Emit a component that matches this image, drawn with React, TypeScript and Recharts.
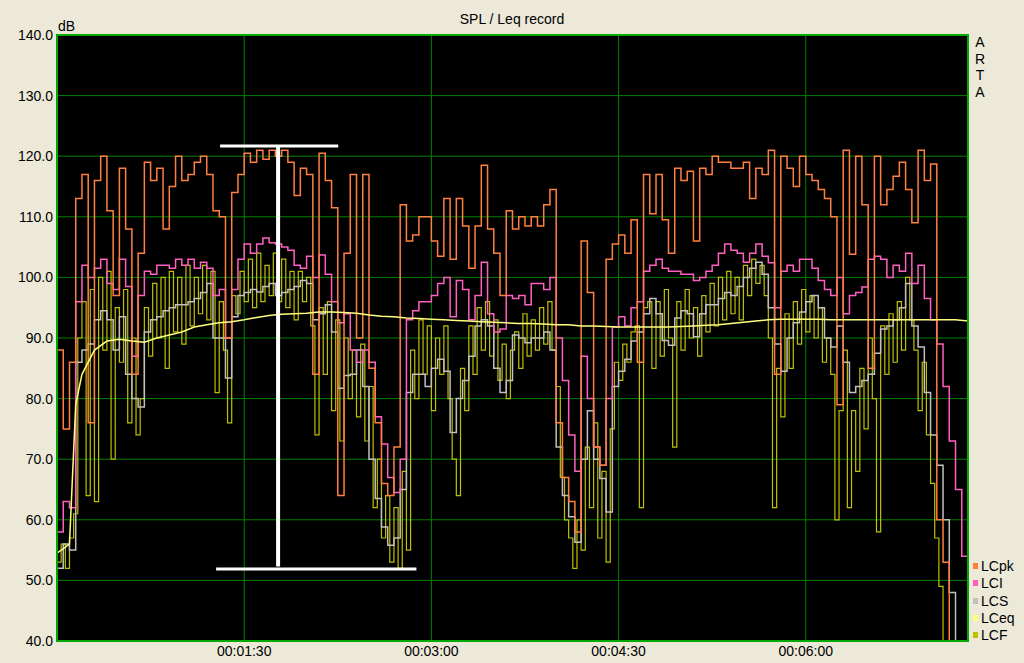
import React from 'react';
import { LineChart, Line, XAxis, YAxis, CartesianGrid, ReferenceLine } from 'recharts';

const FONT = '"Liberation Sans", Arial, sans-serif';

// sample spacing in seconds
const STEP = 3;
const STEP_F = 2;

// C-weighted peak, 3 s steps from 0 s
const LCPK = [
  88, 75, 86, 113, 117, 76, 116, 120, 111, 97,
  118, 108, 84, 104, 119, 116, 118, 108, 115, 120,
  116, 117, 119, 120, 117, 111, 110, 90, 114, 117,
  120.5, 119, 121, 119.5, 121, 120, 121, 119, 113.5, 118,
  117, 84, 120.5, 116, 111.5, 64, 104, 117, 90, 117,
  85, 76, 66, 64, 72, 112, 106, 107, 110, 110,
  106, 103.5, 113, 103, 113, 108.5, 101.5, 108.5, 118.5, 108,
  104, 97, 111, 108, 110, 108.5, 110, 108.5, 112, 114.5,
  76, 67, 63, 58, 106, 97.5, 72, 69, 103, 105.5,
  107, 104, 109.5, 86, 117, 110.5, 117, 109.5, 104, 118,
  116, 117.5, 106, 118, 117, 120, 119, 119, 118, 118,
  119, 113, 118, 117, 121, 84, 120, 118, 115, 120,
  117, 116, 114.5, 113, 110, 79, 121, 103.8, 120, 112,
  85, 120, 112, 114.5, 116.7, 119, 114.5, 109, 121, 116,
  118.7, 60, 53, 38, 38, 38, 38,
];

// C-weighted impulse
const LCI = [
  58, 63, 62, 96, 102, 100, 101.5, 103, 99, 98,
  103, 98.5, 87, 97, 101, 100.5, 102, 102, 101.5, 103,
  102, 103, 101.5, 102.5, 101.5, 97, 98, 90, 98, 103,
  105.5, 104, 105.5, 106.5, 105.7, 105.5, 105, 104.5, 102, 101.5,
  103.5, 100, 103.7, 100.5, 96, 92.5, 94, 88, 86, 88,
  86, 77, 72.5, 67, 64.5, 70, 93, 94.5, 96, 96,
  97, 99, 100, 93.5, 99.5, 98, 93, 97, 102.5, 94,
  91, 91.5, 97, 96.5, 97, 95.5, 99, 99, 98, 100,
  90, 83, 74, 68, 87, 80, 72, 69, 80, 91.8,
  93.5, 92, 95, 96, 101, 102, 103, 101.5, 101, 101,
  100.5, 100.5, 99.5, 100, 101, 102, 104, 105.5, 104.5, 104,
  102.5, 104, 105.5, 103.5, 102.4, 95, 101, 102, 101, 103,
  103, 101.5, 99.5, 98, 97, 100, 94, 97, 97.5, 98.4,
  103, 103.5, 103, 100, 102, 101, 104, 99, 102, 96.5,
  93, 89, 82, 73, 65, 54, 48,
];

// C-weighted slow
const LCS = [
  52, 56, 55, 86, 88, 89, 93, 94.5, 93, 88,
  93.5, 84, 80, 78.6, 91, 93, 93.5, 94.5, 95, 95.5,
  95.5, 96, 96.5, 97.5, 99, 90, 90, 83.4, 93.5, 97,
  97.5, 98, 97.6, 98.5, 99, 97, 97.5, 98, 98.5, 99.5,
  99, 93, 94, 95.5, 91, 81.7, 83.8, 84, 88, 82,
  70, 63.5, 58.8, 55.8, 57, 65, 81, 84, 84, 82,
  85, 86.5, 84.5, 74.4, 80, 83, 87, 92, 93, 92,
  85, 81, 83, 90.5, 90, 89.2, 90, 90, 91, 88,
  72, 64, 60.5, 56.3, 70, 78, 70, 66.8, 61.3, 82,
  84.5, 86.5, 89.5, 91, 94, 96.5, 94, 89.6, 88.8, 93.3,
  94.5, 94, 90.2, 94, 95.5, 95.5, 96.5, 97.5, 97, 98.5,
  100, 101.5, 102.5, 100.5, 95, 89, 84.5, 90, 92.5, 94.3,
  96, 97, 95, 90, 88.5, 92, 86, 81, 82, 83,
  84, 87.5, 91.5, 92, 93, 95, 99, 92, 88.5, 81,
  74, 69, 60, 48, 38, 38, 38,
];

// C-weighted fast, 2 s steps from 0 s
const LCF = [
  53, 56, 52, 57, 61, 90, 96, 64, 98, 63,
  100, 88, 101, 70, 95, 86, 98, 76, 90, 74,
  80, 95, 87, 99, 90, 100, 85, 101, 91, 100,
  89, 102, 92, 100, 94, 102, 93, 101, 81, 96,
  88, 76, 97, 94, 101, 96, 103, 95, 104, 96,
  102, 97, 104, 96, 103, 95, 101, 93, 101, 96,
  100, 92, 74, 95, 84, 96, 78, 93, 73, 90,
  80, 88, 77, 89, 73, 82, 62, 70, 57, 64,
  53, 62, 52, 68, 55, 88, 80, 93, 84, 92,
  78, 90, 84, 92, 80, 70, 64, 85, 78, 92,
  84, 95, 88, 96, 87, 93, 83, 89, 80, 88,
  91, 85, 94, 87, 93, 88, 95, 89, 96, 88,
  82, 67, 60, 57, 52, 60, 55, 72, 62, 76,
  57, 68, 53, 75, 86, 83, 89, 86, 91, 92,
  62, 95, 96, 85, 96, 87, 98, 90, 72, 96,
  88, 98, 90, 95, 87, 97, 91, 99, 92, 100,
  93, 101, 94, 100, 93, 102, 97, 103, 99, 102,
  97, 90, 62, 85, 77, 94, 85, 96, 89, 98,
  91, 97, 90, 95, 86, 90, 84, 60, 78, 88,
  62, 78, 68, 85, 75, 90, 80, 58, 92, 84,
  94, 86, 96, 88, 100, 93, 88, 78, 86, 74,
  66, 57, 49, 38, 38, 38, 38, 38, 38, 38,
];

// running Leq
const EQ_T = [
  0, 6, 9, 12, 18, 24, 30, 36, 42, 48, 54, 60, 66, 72, 78, 84, 90, 96, 102, 108,
  114, 120, 126, 132, 138, 144, 150, 156, 162, 168, 174, 180, 186, 192, 198, 204, 210, 216, 222, 228,
  234, 240, 246, 252, 258, 264, 270, 276, 282, 288, 294, 300, 306, 312, 318, 324, 330, 336, 342, 348,
  354, 360, 366, 372, 378, 384, 390, 396, 402, 408, 414, 420, 426, 432, 438,
];
const LCEQ = [
  54.5, 56, 79, 84, 88, 89.5, 89.8, 89.5, 89.3, 90, 90.5, 91, 91.8, 92.2, 92.5, 92.7, 93, 93.4, 93.7, 93.9,
  94, 94.1, 94.3, 94.3, 94.2, 94.1, 93.8, 93.6, 93.5, 93.3, 93.2, 93.1, 93, 92.9, 92.8, 92.7, 92.6, 92.5, 92.4, 92.4,
  92.3, 92.2, 92.2, 92, 92, 91.9, 91.8, 91.8, 91.8, 91.8, 91.8, 91.9, 92, 92.1, 92.2, 92.4, 92.6, 92.8, 93, 93.1,
  93.1, 93.1, 93.1, 93, 93, 93, 93, 93, 93, 93, 93, 93, 93, 93, 92.8,
];

const Y_TICKS = [40, 50, 60, 70, 80, 90, 100, 110, 120, 130, 140];
const X_TICKS = [90, 180, 270, 360];

const LEGEND = [
  { name: 'LCpk', color: '#FF7F40' },
  { name: 'LCI', color: '#FF60C0' },
  { name: 'LCS', color: '#C0C0C0' },
  { name: 'LCeq', color: '#FFFF80' },
  { name: 'LCF', color: '#C0C000' },
];

const rows = (vals: number[], step: number) => vals.map((v, i) => ({ t: i * step, v }));
const eqRows = EQ_T.map((t, i) => ({ t, v: LCEQ[i] }));

const pad = (n: number) => String(n).padStart(2, '0');
const fmtTime = (s: number) => `${pad(Math.floor(s / 3600))}:${pad(Math.floor(s / 60) % 60)}:${pad(s % 60)}`;

const tickStyle = { fill: '#000', fontSize: 14, fontFamily: FONT };

export default function App() {
  return (
    <div style={{ position: 'absolute', left: 0, top: 0, width: 1024, height: 663, background: '#ECE9D8', fontFamily: FONT }}>
      <LineChart width={1024} height={663} margin={{ top: 35, right: 56, bottom: 0, left: 0 }}>
        <CartesianGrid stroke="#008000" fill="#000000" fillOpacity={1} />
        <XAxis
          dataKey="t"
          type="number"
          domain={[0, 438]}
          ticks={X_TICKS}
          tickFormatter={fmtTime}
          allowDataOverflow
          axisLine={false}
          tickLine={false}
          tickSize={0}
          tickMargin={5}
          height={22}
          tick={tickStyle}
        />
        <YAxis
          type="number"
          domain={[40, 140]}
          ticks={Y_TICKS}
          tickFormatter={(v: number) => v.toFixed(1)}
          allowDataOverflow
          axisLine={false}
          tickLine={false}
          tickSize={0}
          tickMargin={4}
          width={57}
          tick={tickStyle}
        />
        <Line data={rows(LCF, STEP_F)} dataKey="v" name="LCF" type="stepAfter" stroke="#C0C000" strokeWidth={1.2} dot={false} isAnimationActive={false} />
        <Line data={rows(LCS, STEP)} dataKey="v" name="LCS" type="stepAfter" stroke="#C0C0C0" strokeWidth={1.5} dot={false} isAnimationActive={false} />
        <Line data={rows(LCI, STEP)} dataKey="v" name="LCI" type="stepAfter" stroke="#FF60C0" strokeWidth={1.5} dot={false} isAnimationActive={false} />
        <Line data={rows(LCPK, STEP)} dataKey="v" name="LCpk" type="stepAfter" stroke="#FF7F40" strokeWidth={1.5} dot={false} isAnimationActive={false} />
        <Line data={eqRows} dataKey="v" name="LCeq" type="linear" stroke="#FFFF80" strokeWidth={1.5} dot={false} isAnimationActive={false} />
        <ReferenceLine segment={[{ x: 106.3, y: 121.5 }, { x: 106.3, y: 52.3 }]} stroke="#FFFFFF" strokeWidth={4} />
        <ReferenceLine segment={[{ x: 78.4, y: 121.7 }, { x: 135.2, y: 121.7 }]} stroke="#FFFFFF" strokeWidth={3} />
        <ReferenceLine segment={[{ x: 76.5, y: 51.9 }, { x: 172.8, y: 51.9 }]} stroke="#FFFFFF" strokeWidth={3} />
      </LineChart>

      <div style={{ position: 'absolute', left: 56, top: 34, width: 913, height: 608, boxSizing: 'border-box', border: '2px solid #00A800', pointerEvents: 'none' }} />

      <div style={{ position: 'absolute', left: 0, top: 11, width: 1024, textAlign: 'center', fontSize: 14, lineHeight: '16px' }}>SPL / Leq record</div>
      <div style={{ position: 'absolute', left: 58, top: 18, fontSize: 14, lineHeight: '16px' }}>dB</div>

      <div style={{ position: 'absolute', left: 974, top: 34, fontSize: 14, lineHeight: '16.5px', width: 12, textAlign: 'center' }}>
        {'ARTA'.split('').map((c, i) => <div key={i}>{c}</div>)}
      </div>

      {LEGEND.map((s, i) => (
        <div key={s.name} style={{ position: 'absolute', left: 973, top: 558 + i * 17.3, height: 16, display: 'flex', alignItems: 'center', fontSize: 14, lineHeight: '16px' }}>
          <span style={{ width: 5, height: 6, background: s.color, marginRight: 3, display: 'inline-block' }} />
          <span>{s.name}</span>
        </div>
      ))}
    </div>
  );
}
